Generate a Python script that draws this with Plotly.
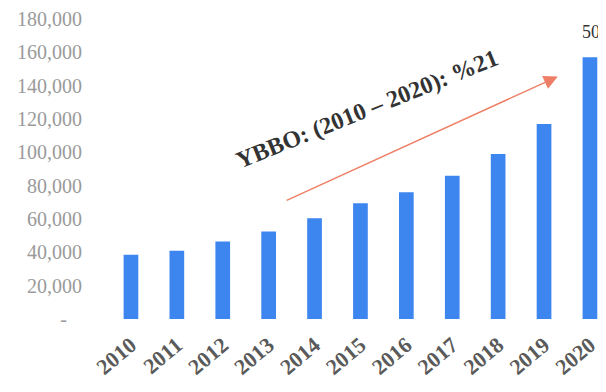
import plotly.graph_objects as go

years = ["2010", "2011", "2012", "2013", "2014", "2015", "2016", "2017", "2018", "2019", "2020"]
values = [38500, 41000, 46500, 52500, 60500, 69500, 76000, 86000, 99000, 117000, 157000]
y_tickvals = [0, 20000, 40000, 60000, 80000, 100000, 120000, 140000, 160000, 180000]
y_ticktext = ["-\u00a0\u00a0\u00a0", "20,000", "40,000", "60,000", "80,000", "100,000",
              "120,000", "140,000", "160,000", "180,000"]
annotation_text = "YBBO: (2010 – 2020): %21"
cut_label_text = "50"

# arrow endpoints (category index, value)
arrow_tail = (3.36, 70700)
arrow_head = (9.30, 145500)

FONT = "Liberation Serif"

fig = go.Figure()
fig.add_trace(go.Bar(x=years, y=values, marker=dict(color="#3D85EF", line=dict(width=0))))

fig.update_layout(
    width=606, height=392,
    margin=dict(l=100, r=8, t=11, b=81),
    paper_bgcolor="white", plot_bgcolor="white",
    bargap=0.68,
    showlegend=False,
    font=dict(family=FONT),
)
fig.update_xaxes(
    type="category", range=[-0.5, 10.35], automargin=False,
    showgrid=False, showline=False, zeroline=False,
    tickangle=-40, ticklabelstandoff=8,
    tickfont=dict(family=FONT, size=22, color="#5a5a5a", weight="bold"),
)
fig.update_yaxes(
    range=[0, 180000], automargin=False, showgrid=False, showline=False, zeroline=False,
    tickvals=y_tickvals, ticktext=y_ticktext, ticklabelstandoff=25,
    ticklabeloverflow="allow",
    tickfont=dict(family=FONT, size=20, color="#9a9a9a"),
)

fig.add_annotation(
    x=arrow_head[0], y=arrow_head[1], ax=arrow_tail[0], ay=arrow_tail[1],
    xref="x", yref="y", axref="x", ayref="y",
    text="", showarrow=True, arrowhead=2, arrowsize=2.0, arrowwidth=1.4,
    arrowcolor="#EE7F66",
)
fig.add_annotation(
    x=5.14, y=126000, xref="x", yref="y",
    text="<b>" + annotation_text + "</b>", showarrow=False, textangle=-22,
    font=dict(family=FONT, size=24, color="#333333"),
)
fig.add_annotation(
    x=9.78, y=172000, xref="x", yref="y", xanchor="left",
    text=cut_label_text, showarrow=False,
    font=dict(family=FONT, size=18, color="#333333"),
)

fig.write_html("out.html")
